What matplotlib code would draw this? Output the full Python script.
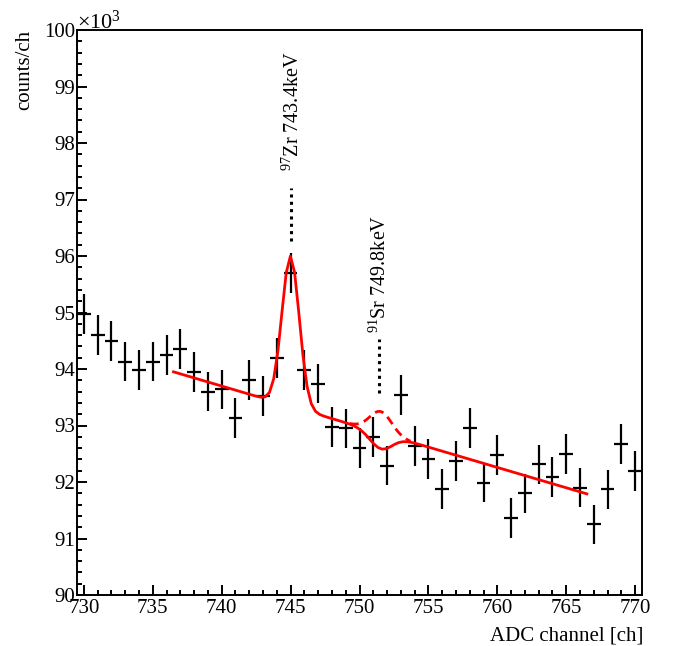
import numpy as np
import matplotlib
matplotlib.use("Agg")
import matplotlib.pyplot as plt
from matplotlib.ticker import MultipleLocator

plt.rcParams['font.family'] = ['Liberation Serif', 'DejaVu Serif']
plt.rcParams['mathtext.fontset'] = 'custom'
plt.rcParams['mathtext.rm'] = 'Liberation Serif'
plt.rcParams['mathtext.it'] = 'Liberation Serif:italic'

# ---- data (counts per channel, in units of 10^3) ----
channels = list(range(730, 771))
counts = [94.97, 94.60, 94.50, 94.13, 93.98, 94.13, 94.25, 94.35, 93.95, 93.60,
          93.64, 93.13, 93.81, 93.52, 94.19, 95.70, 93.98, 93.74, 92.97, 92.95,
          92.60, 92.80, 92.29, 93.54, 92.64, 92.41, 91.88, 92.37, 92.96, 91.99,
          92.48, 91.36, 91.80, 92.31, 92.09, 92.50, 91.90, 91.25, 91.87, 92.67,
          92.19]
errors = [0.35] * len(counts)

# ---- fit parameters ----
fit_range = (736.5, 766.5)
bg_at_start = 93.95
bg_slope = -0.072
zr_amp, zr_mu, zr_sigma = 2.66, 745.0, 0.63
sr_amp_fit, sr_mu, sr_sigma = -0.28, 751.55, 0.80
sr_amp_alt = 0.38
alt_range = (749.3, 753.7)

labels = ["$^{97}$Zr 743.4keV", "$^{91}$Sr 749.8keV"]
label_ch = [745.0, 751.45]


def bg(x):
    return bg_at_start + bg_slope * (x - fit_range[0])


def gaus(x, a, mu, s):
    return a * np.exp(-0.5 * ((x - mu) / s) ** 2)


fig = plt.figure(figsize=(6.75, 6.46), dpi=100)
ax = fig.add_axes([77 / 675, 51 / 646, 565 / 675, 565 / 646])

ax.errorbar(channels, counts, yerr=errors, xerr=0.5, fmt='none',
            ecolor='black', elinewidth=1.6, capsize=0)

xf = np.linspace(fit_range[0], fit_range[1], 100)
yf = bg(xf) + gaus(xf, zr_amp, zr_mu, zr_sigma) + gaus(xf, sr_amp_fit, sr_mu, sr_sigma)
ax.plot(xf, yf, color='#ff0000', lw=2.0, zorder=3)

xa = np.linspace(alt_range[0], alt_range[1], 40)
ya = bg(xa) + gaus(xa, zr_amp, zr_mu, zr_sigma) + gaus(xa, sr_amp_alt, sr_mu, sr_sigma)
ax.plot(xa, ya, color='#ff0000', lw=2.0, ls=(0, (3.2, 2.0)), zorder=3)

# annotation dotted lines and texts
ax.plot([label_ch[0], label_ch[0]], [96.27, 97.21], color='black', lw=2.2,
        ls=(0, (1, 1.4)), solid_capstyle='butt', dash_capstyle='butt')
ax.plot([label_ch[1], label_ch[1]], [93.58, 94.53], color='black', lw=2.2,
        ls=(0, (1, 1.4)), solid_capstyle='butt', dash_capstyle='butt')
ax.text(745.63, 97.50, labels[0], rotation=90, rotation_mode='anchor',
        ha='left', va='baseline', fontsize=14.5)
ax.text(751.9, 94.63, labels[1], rotation=90, rotation_mode='anchor',
        ha='left', va='baseline', fontsize=14.5)

ax.set_xlim(729.5, 770.5)
ax.set_ylim(90, 100)
ax.xaxis.set_major_locator(MultipleLocator(5))
ax.xaxis.set_minor_locator(MultipleLocator(1))
ax.yaxis.set_major_locator(MultipleLocator(1))
ax.yaxis.set_minor_locator(MultipleLocator(0.2))
ax.tick_params(which='both', direction='in', top=False, right=False,
               labelsize=15, width=1.4)
ax.tick_params(which='major', length=7)
ax.tick_params(which='minor', length=3.6)
ax.tick_params(axis='x', pad=3)
ax.tick_params(axis='y', pad=1)
for sp in ax.spines.values():
    sp.set_linewidth(1.4)

fig.text(77 / 675, 1 - 29 / 646, r"$\times$10$^{3}$", ha='left', va='baseline',
         fontsize=16)
fig.text(25 / 675, 1 - 30 / 646, "counts/ch", rotation=90, ha='center', va='top',
         fontsize=15)
fig.text(643 / 675, 1 - 641 / 646, "ADC channel [ch]", ha='right', va='baseline',
         fontsize=15)

fig.savefig("out.png", dpi=100)
